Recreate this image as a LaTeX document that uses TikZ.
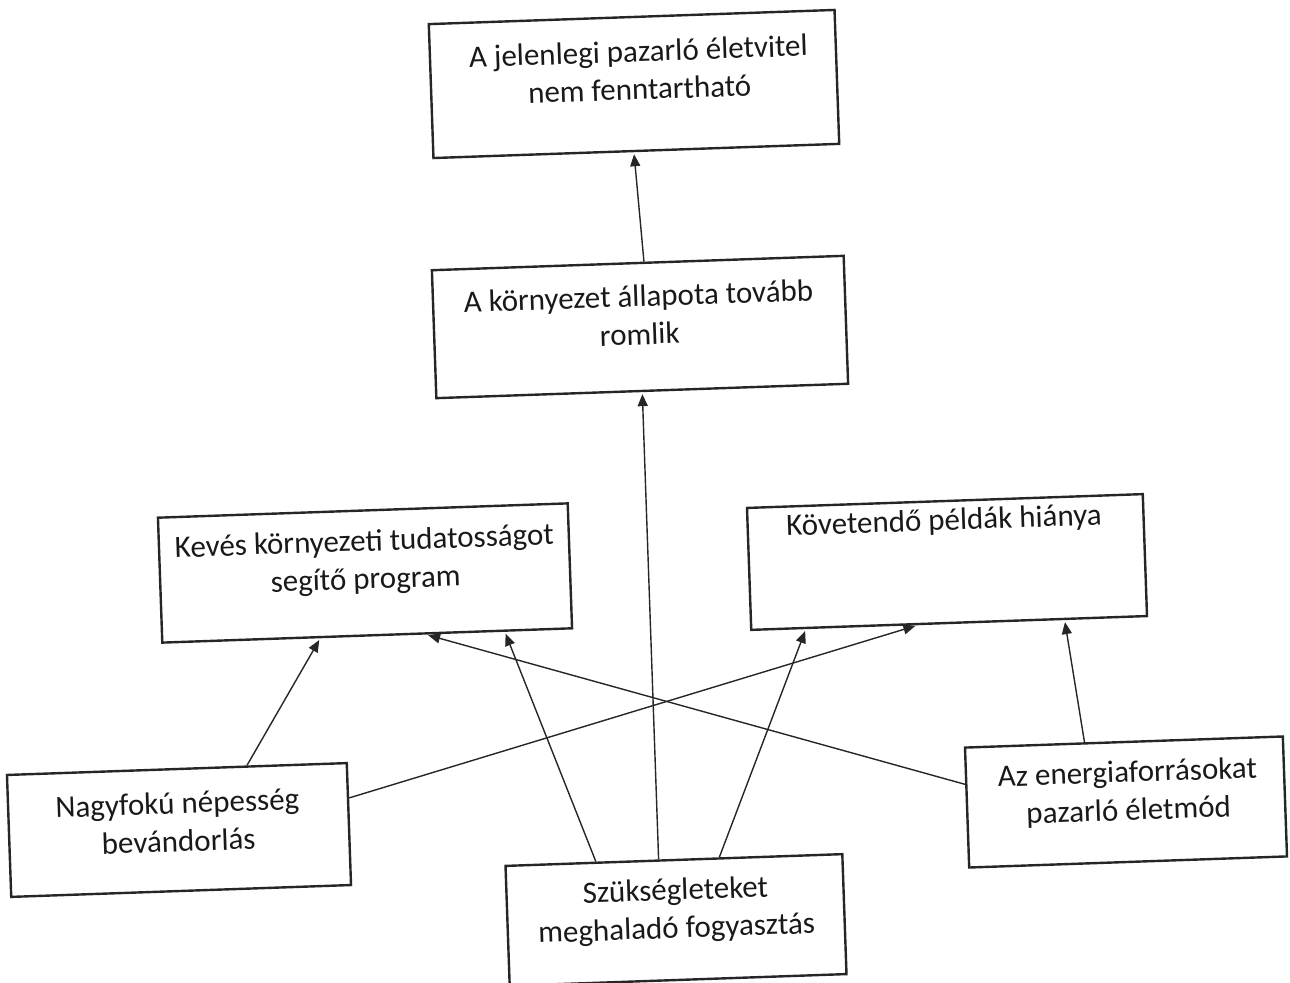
\documentclass[tikz,border=0pt]{standalone}
\usepackage{fontspec}
\setmainfont{Carlito}
\usetikzlibrary{arrows.meta,calc}
\begin{document}
\begin{tikzpicture}[x=0.5pt,y=-0.5pt,
 box/.style={draw=black!85, line width=1.2pt, rotate=2, inner sep=0pt},
 lbl/.style={font=\fontsize{15.5pt}{19pt}\selectfont, align=center, rotate=2, inner sep=0pt, text=black!90},
 link/.style={draw=black!85, line width=0.7pt, -{Triangle[length=6pt,width=5pt]}, shorten >=1pt}]
\useasboundingbox (0,0) rectangle (1290,983);
% boxes
\node[box, minimum width=203pt, minimum height=67pt] (b1) at (634,84) {};
\node[box, minimum width=206pt, minimum height=64pt] (b2) at (640,327) {};
\node[box, minimum width=205pt, minimum height=62.5pt] (b3) at (365,573) {};
\node[box, minimum width=198pt, minimum height=61pt] (b4) at (947,562) {};
\node[box, minimum width=170pt, minimum height=61pt] (b5) at (179,830) {};
\node[box, minimum width=168.5pt, minimum height=60pt] (b6) at (676,920) {};
\node[box, minimum width=159pt, minimum height=60pt] (b7) at (1126,802) {};
% labels
\node[lbl] (t1) at (639,70) {A jelenlegi pazarló életvitel\\nem fenntartható};
\node[lbl] (t2) at (639,315) {A környezet állapota tovább\\romlik};
\node[lbl] (t3) at (365,562) {Kevés környezeti tudatosságot\\segítő program};
\node[lbl] (t4) at (944,522) {Követendő példák hiánya};
\node[lbl] (t5) at (178,822) {Nagyfokú népesség\\bevándorlás};
\node[lbl] (t6) at (676,911) {Szükségleteket\\meghaladó fogyasztás};
\node[lbl] (t7) at (1128,793) {Az energiaforrásokat\\pazarló életmód};
% connectors
\draw[link] ($(b2.north west)!0.515!(b2.north east)$) -- ($(b1.south west)!0.494!(b1.south east)$);
\draw[link] ($(b6.north west)!0.455!(b6.north east)$) -- ($(b2.south west)!0.50!(b2.south east)$);
\draw[link] ($(b5.north west)!0.705!(b5.north east)$) -- ($(b3.south west)!0.386!(b3.south east)$);
\draw[link] ($(b5.north east)!0.29!(b5.south east)$) -- ($(b4.south west)!0.42!(b4.south east)$);
\draw[link] ($(b6.north west)!0.27!(b6.north east)$) -- ($(b3.south west)!0.834!(b3.south east)$);
\draw[link] ($(b6.north west)!0.634!(b6.north east)$) -- ($(b4.south west)!0.14!(b4.south east)$);
\draw[link] ($(b7.north west)!0.31!(b7.south west)$) -- ($(b3.south west)!0.643!(b3.south east)$);
\draw[link] ($(b7.north west)!0.377!(b7.north east)$) -- ($(b4.south west)!0.79!(b4.south east)$);
\end{tikzpicture}
\end{document}
